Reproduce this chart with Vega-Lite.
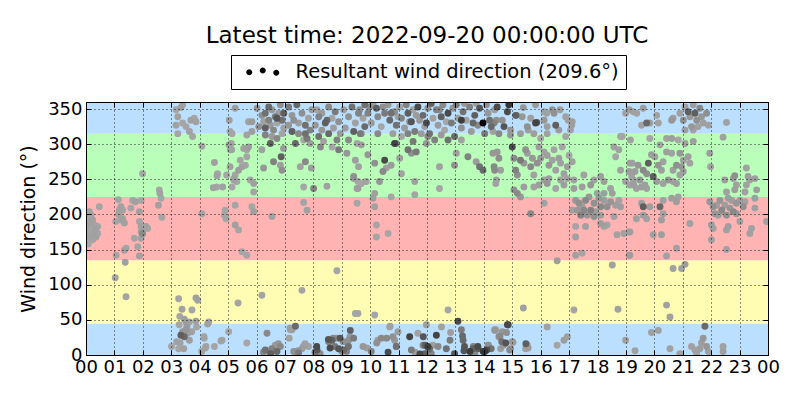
{
  "$schema": "https://vega.github.io/schema/vega-lite/v6.json",
  "autosize": {"type": "none"},
  "width": 682,
  "height": 253,
  "padding": {"left": 86, "top": 102, "right": 32, "bottom": 45},
  "title": {
    "text": "Latest time: 2022-09-20 00:00:00 UTC",
    "font": "DejaVu Sans",
    "fontSize": 23,
    "fontWeight": "normal",
    "color": "black",
    "anchor": "middle",
    "offset": -11,
    "baseline": "alphabetic"
  },
  "data": {
    "values": [
      {"hour":0.0,"dir":201,"age":27},{"hour":0.06,"dir":197,"age":28},{"hour":0.12,"dir":204,"age":27},{"hour":0.18,"dir":199,"age":28},{"hour":0.23,"dir":192,"age":27},{"hour":0.29,"dir":185,"age":28},{"hour":0.35,"dir":180,"age":27},{"hour":0.41,"dir":173,"age":28},{"hour":0.35,"dir":168,"age":27},{"hour":0.23,"dir":164,"age":28},{"hour":0.12,"dir":168,"age":27},{"hour":0.06,"dir":175,"age":28},{"hour":0.0,"dir":183,"age":27},{"hour":0.18,"dir":178,"age":28},{"hour":0.29,"dir":173,"age":27},{"hour":0.41,"dir":183,"age":28},{"hour":0.12,"dir":187,"age":27},{"hour":0.0,"dir":166,"age":28},{"hour":0.47,"dir":211,"age":28},{"hour":0.02,"dir":190,"age":27},{"hour":0.08,"dir":158,"age":28},
      {"hour":1.14,"dir":221,"age":28},{"hour":1.23,"dir":211,"age":27},{"hour":1.29,"dir":206,"age":28},{"hour":1.17,"dir":206,"age":27},{"hour":1.64,"dir":220,"age":28},{"hour":1.74,"dir":218,"age":27},{"hour":1.58,"dir":209,"age":28},{"hour":1.88,"dir":204,"age":27},{"hour":1.94,"dir":220,"age":28},{"hour":1.99,"dir":258,"age":28},{"hour":1.29,"dir":194,"age":27},{"hour":1.23,"dir":192,"age":28},{"hour":1.35,"dir":188,"age":27},{"hour":1.88,"dir":190,"age":28},{"hour":2.11,"dir":183,"age":27},{"hour":2.17,"dir":180,"age":28},{"hour":1.94,"dir":175,"age":27},{"hour":1.7,"dir":166,"age":28},{"hour":1.94,"dir":166,"age":27},{"hour":1.82,"dir":154,"age":28},{"hour":1.88,"dir":141,"age":27},{"hour":1.41,"dir":152,"age":28},{"hour":1.35,"dir":149,"age":27},{"hour":1.06,"dir":142,"age":28},{"hour":1.38,"dir":132,"age":27},{"hour":1.03,"dir":110,"age":28},{"hour":1.41,"dir":83,"age":28},{"hour":1.99,"dir":173,"age":20},{"hour":1.94,"dir":183,"age":27},{"hour":1.05,"dir":190,"age":28},{"hour":1.15,"dir":200,"age":27},
      {"hour":2.58,"dir":235,"age":28},{"hour":2.6,"dir":230,"age":27},{"hour":2.64,"dir":223,"age":28},{"hour":2.55,"dir":213,"age":27},{"hour":2.67,"dir":196,"age":28},
      {"hour":3.4,"dir":356,"age":27},{"hour":3.34,"dir":352,"age":26},{"hour":3.17,"dir":349,"age":28},{"hour":3.23,"dir":339,"age":27},{"hour":3.4,"dir":330,"age":28},{"hour":3.17,"dir":327,"age":27},{"hour":3.52,"dir":325,"age":28},{"hour":3.64,"dir":318,"age":27},{"hour":3.75,"dir":311,"age":28},{"hour":3.69,"dir":334,"age":27},{"hour":3.81,"dir":337,"age":28},{"hour":3.87,"dir":332,"age":27},{"hour":3.23,"dir":315,"age":28},{"hour":4.08,"dir":297,"age":28},{"hour":4.52,"dir":274,"age":27},{"hour":4.63,"dir":258,"age":28},{"hour":4.61,"dir":255,"age":27},{"hour":4.6,"dir":239,"age":28},{"hour":4.81,"dir":239,"age":27},{"hour":4.87,"dir":199,"age":28},{"hour":4.08,"dir":201,"age":28},{"hour":4.48,"dir":238,"age":27},
      {"hour":5.04,"dir":334,"age":27},{"hour":5.07,"dir":318,"age":28},{"hour":5.03,"dir":299,"age":27},{"hour":5.13,"dir":292,"age":28},{"hour":5.07,"dir":268,"age":27},{"hour":5.2,"dir":249,"age":27},{"hour":4.95,"dir":256,"age":28},
      {"hour":3.26,"dir":80,"age":28},{"hour":3.87,"dir":81,"age":27},{"hour":3.93,"dir":78,"age":28},{"hour":3.38,"dir":65,"age":27},{"hour":3.73,"dir":64,"age":28},{"hour":3.46,"dir":51,"age":27},{"hour":3.52,"dir":47,"age":26},{"hour":3.64,"dir":47,"age":28},{"hour":3.87,"dir":48,"age":27},{"hour":4.32,"dir":47,"age":28},{"hour":4.28,"dir":44,"age":27},{"hour":3.28,"dir":43,"age":28},{"hour":3.52,"dir":36,"age":24},{"hour":3.58,"dir":31,"age":26},{"hour":3.46,"dir":26,"age":12},{"hour":3.34,"dir":28,"age":10},{"hour":3.31,"dir":17,"age":27},{"hour":3.26,"dir":9,"age":28},{"hour":3.44,"dir":9,"age":27},{"hour":3.64,"dir":21,"age":26},{"hour":4.16,"dir":24,"age":28},{"hour":4.22,"dir":12,"age":27},{"hour":4.52,"dir":12,"age":28},{"hour":4.75,"dir":20,"age":27},{"hour":3.55,"dir":40,"age":25},{"hour":3.4,"dir":33,"age":24},{"hour":3.01,"dir":12,"age":28},{"hour":3.19,"dir":19,"age":27},{"hour":3.89,"dir":40,"age":28},{"hour":4.15,"dir":26,"age":27},{"hour":4.2,"dir":10,"age":28},{"hour":4.07,"dir":5,"age":27},{"hour":3.3,"dir":55,"age":28},{"hour":3.72,"dir":33,"age":27},
      {"hour":5.25,"dir":351,"age":26},{"hour":6.02,"dir":351,"age":24},{"hour":5.72,"dir":332,"age":27},{"hour":5.84,"dir":332,"age":25},{"hour":5.14,"dir":315,"age":28},{"hour":5.66,"dir":313,"age":27},{"hour":5.84,"dir":318,"age":26},{"hour":6.08,"dir":325,"age":22},
      {"hour":6.19,"dir":341,"age":22},{"hour":6.31,"dir":344,"age":14},{"hour":6.25,"dir":332,"age":27},{"hour":6.43,"dir":334,"age":18},{"hour":6.49,"dir":327,"age":25},{"hour":6.31,"dir":323,"age":10},{"hour":6.6,"dir":320,"age":20},{"hour":6.72,"dir":330,"age":28},{"hour":6.66,"dir":339,"age":16},{"hour":6.54,"dir":349,"age":24},{"hour":6.43,"dir":353,"age":12},{"hour":6.78,"dir":344,"age":26},{"hour":6.84,"dir":356,"age":22},{"hour":6.9,"dir":334,"age":14},{"hour":6.96,"dir":323,"age":27},{"hour":6.31,"dir":313,"age":18},{"hour":6.54,"dir":311,"age":25},{"hour":6.72,"dir":308,"age":20},{"hour":6.9,"dir":315,"age":28},
      {"hour":6.72,"dir":337,"age":8},{"hour":6.96,"dir":344,"age":10},{"hour":6.49,"dir":301,"age":10},{"hour":6.87,"dir":282,"age":10},
      {"hour":7.13,"dir":353,"age":16},{"hour":7.25,"dir":341,"age":24},{"hour":7.42,"dir":356,"age":12},{"hour":7.48,"dir":330,"age":26},{"hour":7.6,"dir":344,"age":22},{"hour":7.72,"dir":327,"age":14},{"hour":7.83,"dir":337,"age":27},{"hour":7.89,"dir":320,"age":18},{"hour":7.95,"dir":349,"age":25},{"hour":7.25,"dir":318,"age":10},{"hour":7.48,"dir":315,"age":20},{"hour":7.66,"dir":306,"age":28},{"hour":7.78,"dir":308,"age":16},{"hour":7.13,"dir":327,"age":24},{"hour":7.37,"dir":301,"age":12},{"hour":7.89,"dir":301,"age":26},{"hour":7.31,"dir":334,"age":22},{"hour":7.72,"dir":315,"age":14},
      {"hour":8.13,"dir":349,"age":27},{"hour":8.19,"dir":339,"age":18},{"hour":8.3,"dir":344,"age":25},{"hour":8.42,"dir":330,"age":10},{"hour":8.54,"dir":353,"age":20},{"hour":8.66,"dir":337,"age":28},{"hour":8.77,"dir":346,"age":16},{"hour":8.3,"dir":320,"age":24},{"hour":8.54,"dir":315,"age":12},{"hour":8.71,"dir":323,"age":26},{"hour":8.89,"dir":332,"age":22},{"hour":8.19,"dir":311,"age":14},{"hour":8.36,"dir":304,"age":27},{"hour":8.83,"dir":306,"age":18},{"hour":8.95,"dir":315,"age":25},{"hour":8.25,"dir":296,"age":20},{"hour":8.66,"dir":296,"age":28},{"hour":8.89,"dir":292,"age":16},{"hour":8.07,"dir":327,"age":24},{"hour":8.48,"dir":334,"age":12},
      {"hour":9.07,"dir":349,"age":26},{"hour":9.24,"dir":339,"age":22},{"hour":9.36,"dir":353,"age":14},{"hour":9.48,"dir":330,"age":27},{"hour":9.59,"dir":344,"age":18},{"hour":9.12,"dir":323,"age":25},{"hour":9.42,"dir":318,"age":10},{"hour":9.24,"dir":306,"age":20},{"hour":9.54,"dir":301,"age":28},{"hour":9.65,"dir":315,"age":16},{"hour":9.18,"dir":287,"age":24},{"hour":9.48,"dir":277,"age":26},{"hour":9.59,"dir":268,"age":27},{"hour":9.42,"dir":254,"age":22},{"hour":9.54,"dir":237,"age":27},{"hour":9.54,"dir":216,"age":28},
      {"hour":5.11,"dir":301,"age":28},{"hour":5.08,"dir":292,"age":27},{"hour":5.43,"dir":277,"age":28},{"hour":5.49,"dir":268,"age":27},{"hour":5.61,"dir":270,"age":28},{"hour":5.37,"dir":263,"age":26},{"hour":5.25,"dir":256,"age":28},{"hour":5.2,"dir":251,"age":27},{"hour":5.31,"dir":247,"age":28},{"hour":5.14,"dir":239,"age":28},{"hour":5.55,"dir":294,"age":27},{"hour":5.66,"dir":292,"age":28},{"hour":5.72,"dir":296,"age":26},{"hour":5.66,"dir":282,"age":28},{"hour":5.78,"dir":249,"age":28},{"hour":5.9,"dir":244,"age":27},{"hour":5.9,"dir":232,"age":28},{"hour":6.19,"dir":292,"age":27},{"hour":6.25,"dir":266,"age":24},{"hour":6.6,"dir":275,"age":18},{"hour":6.84,"dir":270,"age":26},{"hour":6.9,"dir":263,"age":22},{"hour":6.95,"dir":294,"age":25},{"hour":7.54,"dir":268,"age":27},{"hour":7.72,"dir":275,"age":20},{"hour":7.93,"dir":266,"age":26},{"hour":7.66,"dir":239,"age":28},{"hour":8.01,"dir":237,"age":18},{"hour":8.48,"dir":240,"age":27},{"hour":9.42,"dir":251,"age":26},{"hour":9.57,"dir":247,"age":28},{"hour":5.25,"dir":213,"age":28},{"hour":5.84,"dir":211,"age":28},{"hour":5.9,"dir":204,"age":27},{"hour":4.9,"dir":206,"age":28},{"hour":4.93,"dir":194,"age":28},{"hour":5.25,"dir":185,"age":27},{"hour":5.37,"dir":178,"age":28},{"hour":5.49,"dir":147,"age":28},{"hour":5.66,"dir":142,"age":28},{"hour":7.66,"dir":217,"age":28},{"hour":7.78,"dir":206,"age":27},{"hour":6.54,"dir":197,"age":27},{"hour":7.6,"dir":92,"age":28},{"hour":8.83,"dir":120,"age":28},{"hour":6.19,"dir":85,"age":28},{"hour":5.35,"dir":74,"age":28},{"hour":9.48,"dir":59,"age":28},
      {"hour":5.02,"dir":33,"age":28},{"hour":5.66,"dir":17,"age":28},{"hour":6.37,"dir":31,"age":20},{"hour":6.31,"dir":7,"age":14},{"hour":6.43,"dir":5,"age":22},{"hour":6.54,"dir":9,"age":18},{"hour":6.66,"dir":14,"age":25},{"hour":6.84,"dir":12,"age":20},{"hour":6.72,"dir":5,"age":12},{"hour":7.25,"dir":36,"age":26},{"hour":7.37,"dir":41,"age":12},{"hour":7.19,"dir":36,"age":27},{"hour":7.31,"dir":5,"age":22},{"hour":7.6,"dir":9,"age":26},{"hour":7.48,"dir":3,"age":16},{"hour":7.83,"dir":12,"age":27},{"hour":8.13,"dir":7,"age":8},{"hour":8.19,"dir":2,"age":20},{"hour":8.54,"dir":19,"age":18},{"hour":8.66,"dir":21,"age":10},{"hour":8.83,"dir":24,"age":24},{"hour":8.89,"dir":9,"age":8},{"hour":9.01,"dir":5,"age":20},{"hour":9.24,"dir":12,"age":25},{"hour":9.3,"dir":35,"age":10},{"hour":9.24,"dir":21,"age":22},{"hour":9.42,"dir":24,"age":16},{"hour":9.07,"dir":7,"age":12},{"hour":4.79,"dir":21,"age":28},
      {"hour":7.18,"dir":38,"age":26},{"hour":7.15,"dir":24,"age":27},{"hour":7.47,"dir":6,"age":24},{"hour":7.65,"dir":12,"age":26},{"hour":7.71,"dir":16,"age":27},{"hour":8.06,"dir":4,"age":14},{"hour":8.24,"dir":2,"age":22},{"hour":8.12,"dir":12,"age":6},{"hour":8.53,"dir":22,"age":8},{"hour":8.59,"dir":10,"age":6},{"hour":8.7,"dir":24,"age":20},{"hour":8.76,"dir":12,"age":16},{"hour":8.94,"dir":24,"age":8},{"hour":9.05,"dir":19,"age":22},{"hour":9.23,"dir":12,"age":14},{"hour":9.29,"dir":26,"age":24},{"hour":9.17,"dir":5,"age":18},{"hour":9.88,"dir":10,"age":26},{"hour":10.23,"dir":17,"age":22},{"hour":10.58,"dir":24,"age":20},{"hour":10.7,"dir":41,"age":27},{"hour":10.63,"dir":4,"age":6},{"hour":10.86,"dir":21,"age":24},{"hour":10.92,"dir":12,"age":18},{"hour":6.24,"dir":4,"age":20},{"hour":6.5,"dir":2,"age":10},{"hour":6.77,"dir":16,"age":24},
      {"hour":9.63,"dir":349,"age":22},{"hour":9.81,"dir":356,"age":14},{"hour":9.75,"dir":337,"age":27},{"hour":9.92,"dir":344,"age":18},{"hour":10.04,"dir":330,"age":25},{"hour":10.22,"dir":351,"age":10},{"hour":10.27,"dir":339,"age":20},{"hour":10.39,"dir":325,"age":28},{"hour":10.51,"dir":344,"age":16},{"hour":10.63,"dir":356,"age":24},{"hour":10.69,"dir":334,"age":12},{"hour":10.8,"dir":315,"age":26},{"hour":10.86,"dir":346,"age":22},{"hour":10.92,"dir":327,"age":14},{"hour":11.04,"dir":353,"age":27},{"hour":11.1,"dir":337,"age":18},{"hour":11.21,"dir":323,"age":25},{"hour":11.33,"dir":344,"age":10},{"hour":11.39,"dir":332,"age":20},{"hour":11.51,"dir":349,"age":28},{"hour":11.57,"dir":318,"age":16},{"hour":11.68,"dir":353,"age":6},{"hour":11.74,"dir":334,"age":24},{"hour":11.86,"dir":341,"age":12},{"hour":11.92,"dir":325,"age":26},{"hour":12.03,"dir":351,"age":22},{"hour":12.09,"dir":315,"age":14},{"hour":12.21,"dir":337,"age":27},{"hour":12.33,"dir":349,"age":18},{"hour":12.39,"dir":327,"age":25},{"hour":12.5,"dir":339,"age":10},{"hour":12.56,"dir":356,"age":20},{"hour":12.62,"dir":320,"age":28},{"hour":12.74,"dir":344,"age":6},{"hour":12.86,"dir":330,"age":16},{"hour":12.91,"dir":351,"age":24},{"hour":12.97,"dir":311,"age":12},{"hour":13.09,"dir":337,"age":26},{"hour":13.21,"dir":323,"age":22},{"hour":13.27,"dir":346,"age":14},{"hour":13.38,"dir":334,"age":27},{"hour":13.5,"dir":353,"age":18},{"hour":13.56,"dir":318,"age":25},{"hour":13.68,"dir":341,"age":10},{"hour":13.79,"dir":327,"age":20},{"hour":13.85,"dir":351,"age":8},{"hour":13.97,"dir":330,"age":0},{"hour":14.03,"dir":315,"age":16},{"hour":14.15,"dir":344,"age":24},{"hour":14.26,"dir":325,"age":12},{"hour":14.38,"dir":349,"age":26},{"hour":14.44,"dir":334,"age":22},{"hour":12.74,"dir":306,"age":14},{"hour":13.21,"dir":306,"age":27},{"hour":12.27,"dir":306,"age":18},{"hour":11.8,"dir":315,"age":25},{"hour":10.27,"dir":315,"age":20},{"hour":11.1,"dir":311,"age":28},{"hour":11.51,"dir":304,"age":16},{"hour":9.69,"dir":315,"age":24},
      {"hour":13.21,"dir":334,"age":4},{"hour":11.98,"dir":330,"age":6},{"hour":11.45,"dir":332,"age":8},{"hour":10.86,"dir":301,"age":5},{"hour":10.51,"dir":277,"age":6},
      {"hour":9.81,"dir":325,"age":12},{"hour":10.1,"dir":358,"age":26},{"hour":10.45,"dir":353,"age":22},{"hour":10.74,"dir":344,"age":14},{"hour":10.98,"dir":339,"age":27},{"hour":11.27,"dir":356,"age":18},{"hour":11.62,"dir":341,"age":25},{"hour":12.15,"dir":358,"age":10},{"hour":12.44,"dir":349,"age":20},{"hour":12.68,"dir":332,"age":28},{"hour":13.03,"dir":356,"age":16},{"hour":13.32,"dir":358,"age":24},{"hour":13.62,"dir":330,"age":12},{"hour":13.73,"dir":358,"age":26},{"hour":14.09,"dir":356,"age":22},{"hour":14.2,"dir":334,"age":14},{"hour":14.32,"dir":318,"age":27},{"hour":11.33,"dir":315,"age":18},{"hour":12.5,"dir":313,"age":25},{"hour":9.98,"dir":353,"age":20},
      {"hour":9.69,"dir":299,"age":26},{"hour":9.92,"dir":285,"age":24},{"hour":10.16,"dir":273,"age":22},{"hour":10.57,"dir":266,"age":27},{"hour":10.45,"dir":261,"age":20},{"hour":10.74,"dir":270,"age":25},{"hour":10.92,"dir":301,"age":18},{"hour":11.04,"dir":280,"age":26},{"hour":11.1,"dir":258,"age":27},{"hour":11.33,"dir":292,"age":14},{"hour":11.45,"dir":287,"age":22},{"hour":11.62,"dir":289,"age":16},{"hour":11.98,"dir":301,"age":24},{"hour":12.03,"dir":311,"age":20},{"hour":12.44,"dir":268,"age":27},{"hour":13.03,"dir":287,"age":26},{"hour":12.97,"dir":270,"age":22},{"hour":13.44,"dir":282,"age":18},{"hour":13.73,"dir":275,"age":25},{"hour":13.85,"dir":268,"age":14},{"hour":13.97,"dir":263,"age":12},{"hour":14.38,"dir":263,"age":20},{"hour":14.32,"dir":287,"age":24},{"hour":14.44,"dir":249,"age":27},{"hour":9.57,"dir":237,"age":26},{"hour":9.69,"dir":244,"age":28},{"hour":9.86,"dir":247,"age":27},{"hour":10.1,"dir":223,"age":26},{"hour":10.16,"dir":211,"age":27},{"hour":10.74,"dir":225,"age":28},{"hour":11.57,"dir":247,"age":27},{"hour":11.57,"dir":228,"age":28},{"hour":12.44,"dir":237,"age":28},{"hour":10.16,"dir":230,"age":27},{"hour":10.33,"dir":247,"age":24},
      {"hour":10.22,"dir":185,"age":28},{"hour":10.22,"dir":168,"age":28},{"hour":10.63,"dir":173,"age":28},{"hour":10.16,"dir":57,"age":28},{"hour":12.74,"dir":64,"age":28},{"hour":13.09,"dir":48,"age":6},{"hour":9.57,"dir":59,"age":28},
      {"hour":9.75,"dir":12,"age":24},{"hour":10.04,"dir":5,"age":18},{"hour":10.27,"dir":21,"age":26},{"hour":10.39,"dir":24,"age":20},{"hour":10.69,"dir":40,"age":27},{"hour":10.8,"dir":26,"age":22},{"hour":10.92,"dir":12,"age":14},{"hour":10.98,"dir":33,"age":26},{"hour":11.39,"dir":26,"age":5},{"hour":11.45,"dir":7,"age":16},{"hour":11.68,"dir":31,"age":27},{"hour":11.86,"dir":14,"age":20},{"hour":11.98,"dir":43,"age":26},{"hour":12.09,"dir":9,"age":12},{"hour":12.15,"dir":2,"age":18},{"hour":12.33,"dir":28,"age":5},{"hour":12.39,"dir":12,"age":20},{"hour":12.68,"dir":9,"age":14},{"hour":12.97,"dir":2,"age":8},{"hour":13.21,"dir":36,"age":16},{"hour":13.27,"dir":21,"age":12},{"hour":13.32,"dir":12,"age":8},{"hour":13.62,"dir":9,"age":10},{"hour":13.68,"dir":2,"age":20},{"hour":13.79,"dir":12,"age":6},{"hour":14.03,"dir":5,"age":3},{"hour":14.15,"dir":14,"age":24},{"hour":14.26,"dir":9,"age":14},{"hour":14.38,"dir":36,"age":27},{"hour":11.92,"dir":2,"age":10},{"hour":11.74,"dir":2,"age":22},{"hour":12.03,"dir":12,"age":4},
      {"hour":12.51,"dir":40,"age":27},{"hour":12.83,"dir":32,"age":26},{"hour":12.81,"dir":21,"age":16},{"hour":13.25,"dir":27,"age":12},{"hour":13.3,"dir":6,"age":8},{"hour":13.51,"dir":5,"age":4},{"hour":13.63,"dir":12,"age":18},{"hour":13.8,"dir":9,"age":10},{"hour":13.98,"dir":5,"age":4},{"hour":14.1,"dir":7,"age":6},{"hour":14.16,"dir":14,"age":22},{"hour":14.39,"dir":35,"age":24},{"hour":14.57,"dir":27,"age":20},{"hour":14.63,"dir":19,"age":14},{"hour":14.69,"dir":14,"age":24},{"hour":14.8,"dir":32,"age":22},{"hour":14.86,"dir":43,"age":8},{"hour":15.03,"dir":18,"age":26},{"hour":14.91,"dir":7,"age":20},{"hour":15.48,"dir":16,"age":10},{"hour":15.56,"dir":10,"age":26},{"hour":11.58,"dir":4,"age":26},{"hour":11.75,"dir":1,"age":6},{"hour":11.87,"dir":26,"age":8},{"hour":11.93,"dir":14,"age":10},{"hour":12.04,"dir":10,"age":22},{"hour":12.21,"dir":14,"age":26},
      {"hour":14.47,"dir":353,"age":6},{"hour":14.88,"dir":356,"age":3},{"hour":14.83,"dir":346,"age":6},{"hour":14.65,"dir":334,"age":22},{"hour":14.71,"dir":325,"age":8},{"hour":14.94,"dir":320,"age":24},{"hour":14.53,"dir":315,"age":20},{"hour":14.36,"dir":330,"age":18},{"hour":15.12,"dir":341,"age":10},{"hour":15.35,"dir":339,"age":24},{"hour":15.65,"dir":337,"age":26},{"hour":15.82,"dir":330,"age":5},{"hour":16.12,"dir":346,"age":27},{"hour":16.12,"dir":334,"age":24},{"hour":16.23,"dir":325,"age":26},{"hour":16.47,"dir":344,"age":22},{"hour":16.53,"dir":327,"age":10},{"hour":16.88,"dir":339,"age":27},{"hour":17.11,"dir":332,"age":26},{"hour":16.64,"dir":320,"age":25},{"hour":17.05,"dir":320,"age":27},{"hour":16.88,"dir":311,"age":28},{"hour":16.41,"dir":349,"age":24},{"hour":16.23,"dir":315,"age":27},{"hour":15.76,"dir":315,"age":26},{"hour":16.0,"dir":308,"age":28},{"hour":18.99,"dir":344,"age":27},{"hour":19.11,"dir":349,"age":26},{"hour":18.81,"dir":311,"age":28},{"hour":19.16,"dir":306,"age":27},{"hour":15.53,"dir":325,"age":22},{"hour":15.29,"dir":315,"age":26},{"hour":14.94,"dir":313,"age":24},{"hour":15.82,"dir":356,"age":25},
      {"hour":15.15,"dir":341,"age":20},{"hour":15.39,"dir":352,"age":24},{"hour":15.56,"dir":320,"age":26},{"hour":15.86,"dir":331,"age":8},{"hour":16.21,"dir":344,"age":27},{"hour":16.68,"dir":349,"age":26},{"hour":16.97,"dir":334,"age":27},{"hour":17.09,"dir":327,"age":26},{"hour":19.38,"dir":344,"age":27},
      {"hour":14.47,"dir":289,"age":24},{"hour":14.53,"dir":280,"age":22},{"hour":14.36,"dir":268,"age":20},{"hour":14.59,"dir":263,"age":26},{"hour":14.42,"dir":244,"age":27},{"hour":15.0,"dir":296,"age":6},{"hour":15.06,"dir":280,"age":20},{"hour":15.12,"dir":263,"age":18},{"hour":15.18,"dir":256,"age":22},{"hour":15.29,"dir":277,"age":16},{"hour":15.41,"dir":273,"age":24},{"hour":15.47,"dir":292,"age":22},{"hour":15.53,"dir":287,"age":26},{"hour":15.65,"dir":268,"age":20},{"hour":15.71,"dir":280,"age":24},{"hour":15.76,"dir":256,"age":27},{"hour":15.88,"dir":273,"age":22},{"hour":15.94,"dir":296,"age":26},{"hour":16.0,"dir":280,"age":24},{"hour":16.12,"dir":289,"age":27},{"hour":16.23,"dir":284,"age":26},{"hour":16.29,"dir":270,"age":24},{"hour":16.41,"dir":277,"age":27},{"hour":16.47,"dir":292,"age":28},{"hour":16.53,"dir":263,"age":27},{"hour":16.64,"dir":280,"age":26},{"hour":16.7,"dir":273,"age":27},{"hour":16.76,"dir":296,"age":28},{"hour":16.82,"dir":258,"age":27},{"hour":16.94,"dir":268,"age":26},{"hour":17.0,"dir":284,"age":28},{"hour":17.11,"dir":275,"age":27},{"hour":15.06,"dir":235,"age":22},{"hour":15.18,"dir":230,"age":20},{"hour":15.29,"dir":225,"age":24},{"hour":15.41,"dir":239,"age":26},{"hour":15.76,"dir":239,"age":27},{"hour":15.94,"dir":242,"age":26},{"hour":16.12,"dir":249,"age":27},{"hour":16.23,"dir":244,"age":24},{"hour":16.29,"dir":251,"age":26},{"hour":16.53,"dir":237,"age":28},{"hour":16.7,"dir":249,"age":27},{"hour":16.82,"dir":242,"age":26},{"hour":16.94,"dir":251,"age":27},{"hour":17.17,"dir":237,"age":26},{"hour":16.12,"dir":216,"age":27},{"hour":15.65,"dir":201,"age":20},{"hour":17.17,"dir":249,"age":27},{"hour":17.52,"dir":256,"age":27},{"hour":17.46,"dir":239,"age":26},{"hour":17.76,"dir":242,"age":24},{"hour":17.88,"dir":249,"age":27},{"hour":18.23,"dir":247,"age":26},{"hour":18.46,"dir":237,"age":27},{"hour":18.11,"dir":254,"age":26},{"hour":18.58,"dir":296,"age":27},{"hour":18.64,"dir":282,"age":28},{"hour":18.75,"dir":292,"age":27},{"hour":18.87,"dir":311,"age":28},{"hour":18.81,"dir":263,"age":27},{"hour":19.11,"dir":261,"age":26},{"hour":19.22,"dir":273,"age":27},{"hour":19.28,"dir":242,"age":26},{"hour":18.99,"dir":247,"age":27},{"hour":18.52,"dir":230,"age":26},
      {"hour":17.23,"dir":220,"age":24},{"hour":17.35,"dir":216,"age":22},{"hour":17.46,"dir":211,"age":26},{"hour":17.58,"dir":220,"age":20},{"hour":17.7,"dir":225,"age":24},{"hour":17.76,"dir":206,"age":18},{"hour":17.88,"dir":216,"age":22},{"hour":17.93,"dir":204,"age":26},{"hour":18.05,"dir":223,"age":24},{"hour":18.11,"dir":211,"age":20},{"hour":18.23,"dir":220,"age":26},{"hour":18.34,"dir":211,"age":22},{"hour":18.46,"dir":218,"age":24},{"hour":18.64,"dir":213,"age":26},{"hour":18.75,"dir":220,"age":27},{"hour":17.41,"dir":199,"age":18},{"hour":17.64,"dir":199,"age":24},{"hour":17.88,"dir":197,"age":22},{"hour":17.52,"dir":206,"age":20},{"hour":17.29,"dir":206,"age":24},{"hour":18.11,"dir":199,"age":26},{"hour":17.11,"dir":206,"age":27},{"hour":18.23,"dir":230,"age":26},{"hour":17.99,"dir":230,"age":27},{"hour":18.58,"dir":197,"age":27},{"hour":18.81,"dir":211,"age":26},
      {"hour":17.58,"dir":183,"age":27},{"hour":17.23,"dir":183,"age":28},{"hour":17.23,"dir":168,"age":27},{"hour":18.11,"dir":187,"age":26},{"hour":18.23,"dir":183,"age":27},{"hour":18.34,"dir":185,"age":28},{"hour":18.93,"dir":173,"age":27},{"hour":19.11,"dir":175,"age":26},{"hour":18.69,"dir":171,"age":27},{"hour":17.23,"dir":142,"age":27},{"hour":17.46,"dir":145,"age":28},{"hour":19.11,"dir":142,"age":26},
      {"hour":16.58,"dir":134,"age":26},{"hour":18.52,"dir":128,"age":27},{"hour":15.39,"dir":67,"age":27},{"hour":17.17,"dir":64,"age":28},{"hour":18.72,"dir":65,"age":27},
      {"hour":14.83,"dir":43,"age":6},{"hour":14.65,"dir":33,"age":24},{"hour":14.53,"dir":26,"age":22},{"hour":14.77,"dir":17,"age":8},{"hour":14.59,"dir":9,"age":26},{"hour":14.42,"dir":36,"age":27},{"hour":15.0,"dir":19,"age":25},{"hour":14.94,"dir":9,"age":22},{"hour":15.53,"dir":14,"age":26},{"hour":15.47,"dir":9,"age":27},{"hour":16.23,"dir":40,"age":27},{"hour":16.94,"dir":26,"age":27},{"hour":16.82,"dir":21,"age":26},{"hour":16.58,"dir":14,"age":28},{"hour":18.99,"dir":21,"age":27},
      {"hour":19.26,"dir":346,"age":27},{"hour":19.61,"dir":351,"age":26},{"hour":19.73,"dir":330,"age":12},{"hour":19.55,"dir":327,"age":27},{"hour":19.84,"dir":330,"age":26},{"hour":20.08,"dir":341,"age":27},{"hour":20.66,"dir":337,"age":26},{"hour":20.61,"dir":334,"age":24},{"hour":20.9,"dir":344,"age":27},{"hour":21.02,"dir":334,"age":22},{"hour":21.08,"dir":353,"age":26},{"hour":21.19,"dir":346,"age":10},{"hour":21.25,"dir":339,"age":24},{"hour":21.37,"dir":356,"age":26},{"hour":21.43,"dir":344,"age":10},{"hour":21.49,"dir":334,"age":22},{"hour":21.54,"dir":325,"age":27},{"hour":21.6,"dir":351,"age":20},{"hour":21.66,"dir":339,"age":24},{"hour":21.72,"dir":330,"age":26},{"hour":21.84,"dir":344,"age":22},{"hour":21.9,"dir":327,"age":27},{"hour":21.31,"dir":325,"age":24},{"hour":21.08,"dir":320,"age":26},{"hour":21.37,"dir":320,"age":27},{"hour":22.54,"dir":331,"age":27},{"hour":20.14,"dir":330,"age":27},{"hour":19.84,"dir":308,"age":28},{"hour":20.43,"dir":308,"age":27},{"hour":20.61,"dir":308,"age":26},{"hour":20.84,"dir":306,"age":28},{"hour":21.08,"dir":301,"age":27},{"hour":21.37,"dir":304,"age":26},
      {"hour":20.2,"dir":299,"age":27},{"hour":20.43,"dir":289,"age":26},{"hour":20.61,"dir":287,"age":27},{"hour":20.9,"dir":287,"age":24},{"hour":21.02,"dir":277,"age":27},{"hour":21.19,"dir":282,"age":26},{"hour":21.25,"dir":273,"age":27},{"hour":20.96,"dir":268,"age":24},{"hour":20.78,"dir":270,"age":22},{"hour":20.66,"dir":263,"age":26},{"hour":20.31,"dir":275,"age":27},{"hour":20.25,"dir":263,"age":26},{"hour":20.14,"dir":270,"age":24},{"hour":20.02,"dir":282,"age":27},{"hour":19.9,"dir":285,"age":26},{"hour":19.79,"dir":273,"age":10},{"hour":19.73,"dir":258,"age":22},{"hour":19.61,"dir":263,"age":20},{"hour":19.43,"dir":270,"age":24},{"hour":19.32,"dir":261,"age":26},{"hour":19.26,"dir":249,"age":27},{"hour":19.14,"dir":273,"age":26},{"hour":19.2,"dir":254,"age":27},{"hour":19.49,"dir":249,"age":24},{"hour":19.67,"dir":242,"age":26},{"hour":19.96,"dir":254,"age":10},{"hour":20.08,"dir":247,"age":26},{"hour":20.31,"dir":244,"age":27},{"hour":20.49,"dir":249,"age":24},{"hour":20.66,"dir":247,"age":27},{"hour":20.78,"dir":244,"age":26},{"hour":20.9,"dir":256,"age":27},{"hour":21.02,"dir":261,"age":26},{"hour":19.37,"dir":237,"age":27},{"hour":19.55,"dir":239,"age":26},{"hour":19.73,"dir":237,"age":27},{"hour":21.95,"dir":287,"age":26},{"hour":21.98,"dir":268,"age":27},{"hour":22.42,"dir":310,"age":27},{"hour":22.48,"dir":249,"age":26},{"hour":22.54,"dir":232,"age":27},{"hour":22.78,"dir":251,"age":26},{"hour":22.83,"dir":255,"age":22},{"hour":22.89,"dir":242,"age":27},{"hour":23.24,"dir":266,"age":27},{"hour":23.3,"dir":254,"age":26},{"hour":23.36,"dir":249,"age":27},{"hour":23.54,"dir":251,"age":26},{"hour":23.24,"dir":242,"age":27},{"hour":23.6,"dir":235,"age":26},{"hour":23.19,"dir":232,"age":27},{"hour":22.83,"dir":235,"age":26},{"hour":19.14,"dir":242,"age":27},
      {"hour":21.95,"dir":218,"age":24},{"hour":22.07,"dir":211,"age":22},{"hour":22.19,"dir":213,"age":26},{"hour":22.31,"dir":220,"age":24},{"hour":22.37,"dir":206,"age":20},{"hour":22.48,"dir":213,"age":26},{"hour":22.54,"dir":199,"age":22},{"hour":22.66,"dir":209,"age":24},{"hour":22.72,"dir":220,"age":26},{"hour":22.78,"dir":204,"age":20},{"hour":22.89,"dir":216,"age":24},{"hour":23.01,"dir":220,"age":26},{"hour":23.13,"dir":211,"age":22},{"hour":23.19,"dir":218,"age":27},{"hour":22.13,"dir":201,"age":24},{"hour":22.25,"dir":199,"age":26},{"hour":22.89,"dir":201,"age":24},{"hour":23.01,"dir":190,"age":27},{"hour":22.6,"dir":223,"age":26},{"hour":23.54,"dir":209,"age":27},{"hour":23.54,"dir":223,"age":26},
      {"hour":19.55,"dir":216,"age":27},{"hour":19.61,"dir":211,"age":10},{"hour":19.84,"dir":211,"age":26},{"hour":20.2,"dir":211,"age":12},{"hour":20.31,"dir":220,"age":27},{"hour":20.61,"dir":223,"age":26},{"hour":20.84,"dir":225,"age":27},{"hour":20.78,"dir":218,"age":26},{"hour":20.31,"dir":201,"age":27},{"hour":20.25,"dir":192,"age":26},{"hour":19.73,"dir":194,"age":27},{"hour":19.61,"dir":199,"age":26},{"hour":19.37,"dir":194,"age":27},{"hour":19.14,"dir":175,"age":27},{"hour":21.25,"dir":187,"age":27},{"hour":22.01,"dir":185,"age":26},{"hour":22.07,"dir":180,"age":27},{"hour":22.01,"dir":164,"age":27},{"hour":22.6,"dir":183,"age":26},{"hour":22.54,"dir":178,"age":27},{"hour":23.42,"dir":180,"age":27},{"hour":23.36,"dir":173,"age":27},{"hour":23.95,"dir":190,"age":27},{"hour":19.96,"dir":171,"age":27},{"hour":20.25,"dir":171,"age":26},{"hour":20.78,"dir":152,"age":27},{"hour":20.43,"dir":141,"age":27},{"hour":19.14,"dir":142,"age":27},{"hour":22.54,"dir":150,"age":27},
      {"hour":20.66,"dir":123,"age":27},{"hour":20.96,"dir":123,"age":27},{"hour":21.08,"dir":129,"age":26},{"hour":20.43,"dir":71,"age":27},{"hour":20.55,"dir":54,"age":27},
      {"hour":19.9,"dir":32,"age":27},{"hour":20.14,"dir":35,"age":27},{"hour":20.55,"dir":9,"age":27},{"hour":19.32,"dir":6,"age":27},{"hour":21.78,"dir":41,"age":12},{"hour":21.72,"dir":24,"age":24},{"hour":21.66,"dir":17,"age":26},{"hour":21.31,"dir":12,"age":27},{"hour":21.43,"dir":7,"age":27},{"hour":21.6,"dir":9,"age":26},{"hour":21.84,"dir":12,"age":24},{"hour":21.9,"dir":5,"age":27},{"hour":21.49,"dir":2,"age":27},{"hour":22.42,"dir":12,"age":27},{"hour":22.42,"dir":5,"age":26},{"hour":20.9,"dir":2,"age":27}
    ]
  },
  "layer": [
    {
      "data": {
        "values": [
          {"lo": 0, "hi": 45, "sector": "N"},
          {"lo": 45, "hi": 135, "sector": "E"},
          {"lo": 135, "hi": 225, "sector": "S"},
          {"lo": 225, "hi": 315, "sector": "W"},
          {"lo": 315, "hi": 360, "sector": "N"}
        ]
      },
      "mark": {"type": "rect"},
      "encoding": {
        "x": {
          "datum": 0,
          "type": "quantitative",
          "scale": {"domain": [0, 24], "nice": false, "zero": false},
          "axis": {
            "orient": "top",
            "title": null,
            "values": [0,1,2,3,4,5,6,7,8,9,10,11,12,13,14,15,16,17,18,19,20,21,22,23,24],
            "labels": false,
            "grid": false,
            "tickSize": -5,
            "tickColor": "black",
            "domainColor": "black",
            "zindex": 1
          }
        },
        "x2": {"datum": 24},
        "y": {
          "field": "lo",
          "type": "quantitative",
          "scale": {"domain": [0, 360], "nice": false},
          "axis": {
            "orient": "right",
            "title": null,
            "values": [0, 50, 100, 150, 200, 250, 300, 350],
            "labels": false,
            "grid": false,
            "tickSize": -5,
            "tickColor": "black",
            "domainColor": "black",
            "zindex": 1
          }
        },
        "y2": {"field": "hi"},
        "fill": {
          "field": "sector",
          "type": "nominal",
          "scale": {"domain": ["N", "E", "S", "W"], "range": ["#bbdfff", "#fffcb3", "#ffb3b3", "#b9ffb9"]},
          "legend": null
        }
      }
    },
    {
      "mark": {"type": "circle", "size": 48, "opacity": 1, "strokeWidth": 0, "clip": true},
      "encoding": {
        "x": {
          "field": "hour",
          "type": "quantitative",
          "scale": {"domain": [0, 24], "nice": false, "zero": false},
          "axis": {
            "orient": "bottom",
            "title": null,
            "values": [0,1,2,3,4,5,6,7,8,9,10,11,12,13,14,15,16,17,18,19,20,21,22,23,24],
            "labelExpr": "(datum.value % 24 < 10 ? '0' : '') + (datum.value % 24)",
            "labelFont": "DejaVu Sans",
            "labelFontSize": 18,
            "labelColor": "black",
            "labelPadding": 8,
            "labelFlush": false,
            "labelOverlap": false,
            "grid": true,
            "gridColor": "black",
            "gridDash": [1, 3],
            "gridWidth": 1,
            "gridOpacity": 0.85,
            "tickSize": -5,
            "tickColor": "black",
            "domainColor": "black",
            "zindex": 1
          }
        },
        "y": {
          "field": "dir",
          "type": "quantitative",
          "scale": {"domain": [0, 360], "nice": false},
          "axis": {
            "orient": "left",
            "title": "Wind direction (°)",
            "titleFont": "DejaVu Sans",
            "titleFontSize": 19,
            "titleFontWeight": "normal",
            "titleColor": "black",
            "titleX": -52,
            "titleY": 126.5,
            "titleAngle": -90,
            "titleAlign": "center",
            "titleBaseline": "alphabetic",
            "values": [0, 50, 100, 150, 200, 250, 300, 350],
            "labelFont": "DejaVu Sans",
            "labelFontSize": 18,
            "labelColor": "black",
            "labelPadding": 9,
            "labelFlush": false,
            "labelOverlap": false,
            "grid": true,
            "gridColor": "black",
            "gridDash": [1, 3],
            "gridWidth": 1,
            "gridOpacity": 0.85,
            "tickSize": -5,
            "tickColor": "black",
            "domainColor": "black",
            "zindex": 1
          }
        },
        "color": {
          "field": "age",
          "type": "quantitative",
          "scale": {"type": "pow", "exponent": 0.5, "domain": [0, 30], "range": ["#000000", "#ababab"]},
          "legend": null
        },
        "order": {"field": "age", "sort": "descending"}
      }
    },
    {
      "transform": [{"filter": "false"}],
      "mark": {"type": "point", "filled": true, "color": "black", "opacity": 1, "size": 100, "strokeWidth": 0},
      "encoding": {
        "shape": {
          "datum": "Resultant wind direction (209.6°)",
          "type": "nominal",
          "scale": {"range": ["M-3.3,0.08a0.6,0.6 0 1,0 1.2,0a0.6,0.6 0 1,0 -1.2,0Z M-0.6,-0.26a0.6,0.6 0 1,0 1.2,0a0.6,0.6 0 1,0 -1.2,0Z M2.1,0.2a0.6,0.6 0 1,0 1.2,0a0.6,0.6 0 1,0 -1.2,0Z"]},
          "legend": {
            "orient": "none",
            "legendX": 145,
            "legendY": -47,
            "title": null,
            "padding": 7,
            "strokeColor": "black",
            "fillColor": "white",
            "cornerRadius": 0,
            "labelFont": "DejaVu Sans",
            "labelFontSize": 19.5,
            "labelColor": "black",
            "labelLimit": 500,
            "labelOffset": 23,
            "symbolOffset": 15,
            "symbolSize": 100,
            "symbolFillColor": "black",
            "symbolStrokeWidth": 0,
            "symbolOpacity": 1
          }
        }
      }
    }
  ],
  "resolve": {"axis": {"x": "independent", "y": "independent"}},
  "config": {
    "view": {"stroke": null},
    "axis": {"domainWidth": 1, "tickWidth": 1}
  }
}
